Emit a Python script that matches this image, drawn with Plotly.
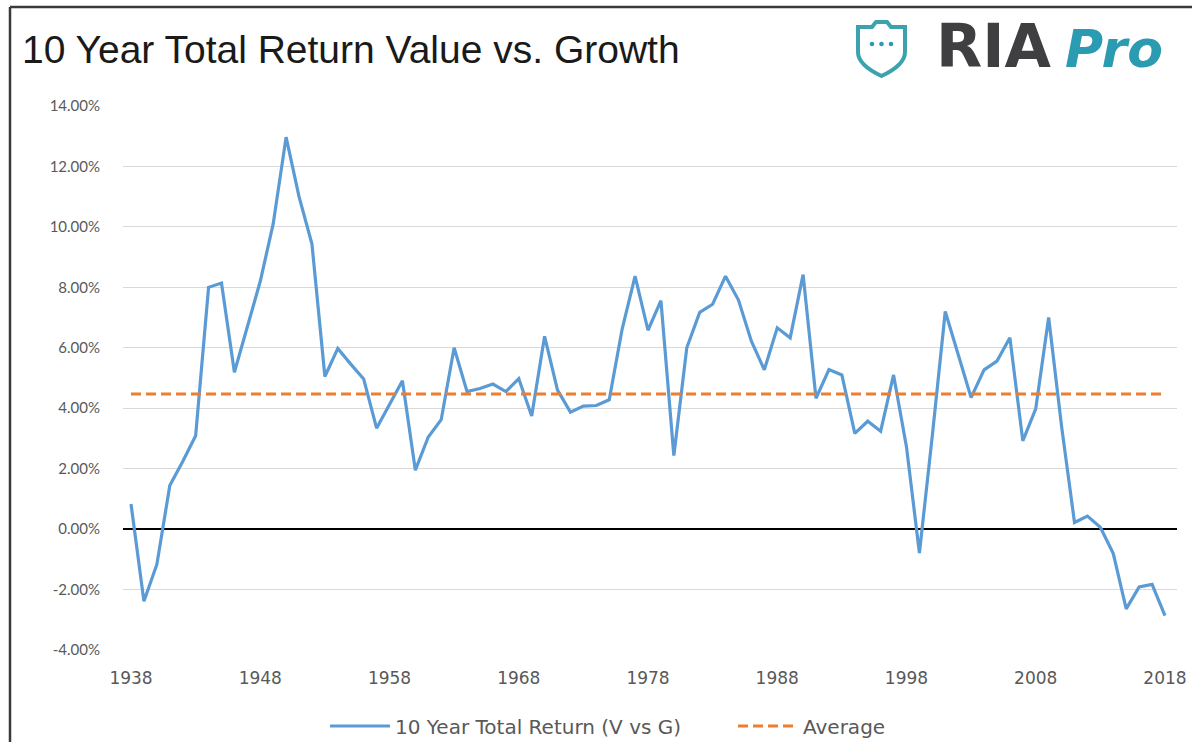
import plotly.graph_objects as go

# ---------------- data ----------------
YEARS = list(range(1938, 2019))
TOTAL_RETURN_V_VS_G = [
    0.83, -2.39, -1.17, 1.44, 2.24, 3.09, 8.00, 8.14, 5.19, 6.70,
    8.20, 10.10, 12.97, 11.00, 9.43, 5.05, 5.98, 5.46, 4.97, 3.34,
    4.10, 4.91, 1.95, 3.05, 3.62, 6.00, 4.55, 4.65, 4.80, 4.55,
    4.98, 3.74, 6.38, 4.60, 3.87, 4.07, 4.09, 4.28, 6.62, 8.37,
    6.58, 7.56, 2.43, 6.00, 7.17, 7.44, 8.37, 7.58, 6.22, 5.27,
    6.66, 6.33, 8.42, 4.33, 5.28, 5.10, 3.17, 3.57, 3.24, 5.10,
    2.72, -0.79, 3.10, 7.20, 5.78, 4.35, 5.27, 5.56, 6.33, 2.92,
    3.98, 7.00, 3.40, 0.22, 0.43, 0.06, -0.81, -2.64, -1.91, -1.83,
    -2.86,
]
AVERAGE_VALUE = 4.47
AVERAGE = [AVERAGE_VALUE for _ in YEARS]
X_TICK_YEARS = [1938, 1948, 1958, 1968, 1978, 1988, 1998, 2008, 2018]
Y_TICK_VALUES = [-4, -2, 0, 2, 4, 6, 8, 10, 12, 14]
Y_TICK_LABELS = ["-4.00%", "-2.00%", "0.00%", "2.00%", "4.00%", "6.00%",
                 "8.00%", "10.00%", "12.00%", "14.00%"]
TITLE = "10 Year Total Return Value vs. Growth"
SERIES_NAME = "10 Year Total Return (V vs G)"
AVG_NAME = "Average"

# ---------------- layout geometry ----------------
W, H = 1192, 742
ML, MR, MT, MB = 123, 15, 106, 92
PW = W - ML - MR
PH = H - MT - MB


def px(x):
    return (x - ML) / PW


def py(y):
    return (H - MB - y) / PH


YTICK_FONT = dict(family="Lato, Calibri, sans-serif", size=15, color="#595959")
XTICK_FONT = dict(family="DejaVu Sans, sans-serif", size=17, color="#595959")

fig = go.Figure()
fig.add_trace(go.Scatter(
    x=YEARS, y=TOTAL_RETURN_V_VS_G, mode="lines", name=SERIES_NAME,
    line=dict(color="#5b9bd5", width=3.2),
))
fig.add_trace(go.Scatter(
    x=YEARS, y=AVERAGE, mode="lines", name=AVG_NAME,
    line=dict(color="#ed7d31", width=3, dash="10px,5px"),
))


def P(x, y):
    return f"{px(x):.5f},{py(y):.5f}"


shield = (f"M {P(858,27)} L {P(872,27)} L {P(876,22)} L {P(887,22)} L {P(891,27)} "
          f"L {P(905,27)} L {P(905,52)} Q {P(905,65)} {P(881.5,76)} "
          f"Q {P(858,65)} {P(858,52)} Z")

shapes = [
    dict(type="path", xref="paper", yref="paper", path=shield,
         line=dict(color="#3aa3ad", width=4), fillcolor="rgba(0,0,0,0)"),
    dict(type="line", xref="paper", yref="paper", x0=px(10), x1=px(10), y0=py(7), y1=py(742),
         line=dict(color="#3a3a3a", width=2.5)),
    dict(type="line", xref="paper", yref="paper", x0=px(10), x1=px(1192), y0=py(7), y1=py(7),
         line=dict(color="#3a3a3a", width=2.5)),
]
for cx in (872, 881.5, 891):
    shapes.append(dict(type="circle", xref="paper", yref="paper",
                       x0=px(cx - 2.3), x1=px(cx + 2.3), y0=py(44 + 2.3), y1=py(44 - 2.3),
                       fillcolor="#2b9bb5", line=dict(width=0)))

annotations = [
    dict(text=TITLE, xref="paper", yref="paper", x=px(20), y=py(50),
         xanchor="left", yanchor="middle", showarrow=False,
         font=dict(family="Liberation Sans, Arial, sans-serif", size=39, color="#1a1a1a")),
    dict(text="<b>RIA</b>", xref="paper", yref="paper", x=px(934), y=py(46),
         xanchor="left", yanchor="middle", showarrow=False,
         font=dict(family="DejaVu Sans, sans-serif", size=60, color="#3f3f42")),
    dict(text="<b><i>Pro</i></b>", xref="paper", yref="paper", x=px(1063), y=py(49),
         xanchor="left", yanchor="middle", showarrow=False,
         font=dict(family="DejaVu Sans, sans-serif", size=52, color="#2a9bb0")),
]

fig.update_layout(
    width=W, height=H,
    margin=dict(l=ML, r=MR, t=MT, b=MB, pad=0, autoexpand=False),
    paper_bgcolor="white", plot_bgcolor="white",
    showlegend=True,
    hovermode=False,
    legend=dict(orientation="h", x=px(325), xanchor="left", y=py(726), yanchor="middle",
                font=dict(family="DejaVu Sans, sans-serif", size=20, color="#595959"),
                itemwidth=60, entrywidth=333, entrywidthmode="pixels",
                tracegroupgap=0, bgcolor="rgba(0,0,0,0)"),
    shapes=shapes,
    annotations=annotations,
    xaxis=dict(range=[1937.38, 2018.93], tickmode="array", tickvals=X_TICK_YEARS,
               showgrid=False, zeroline=False, showline=False, ticks="",
               tickfont=XTICK_FONT, ticklabelstandoff=16),
    yaxis=dict(range=[-4, 14], tickmode="array", tickvals=Y_TICK_VALUES,
               ticktext=Y_TICK_LABELS, showgrid=True, gridcolor="#d9d9d9", gridwidth=1.3,
               zeroline=True, zerolinecolor="#000000", zerolinewidth=1.5,
               showline=False, ticks="", tickfont=YTICK_FONT, ticklabelstandoff=22),
)

fig.write_html("out.html", config={"displayModeBar": False},
               post_script="document.body.style.margin='0';document.body.style.overflow='hidden';")
